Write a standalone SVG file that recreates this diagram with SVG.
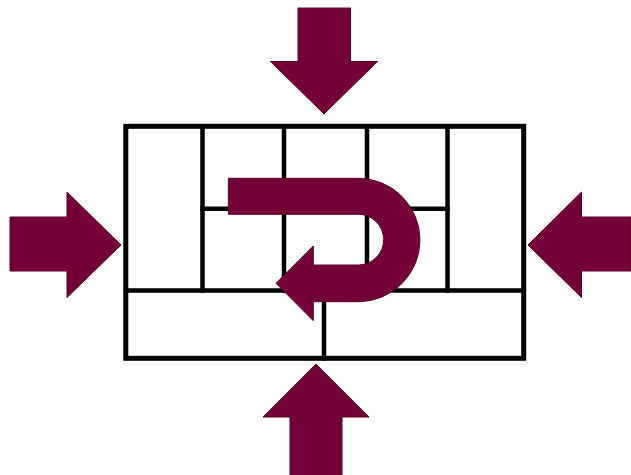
<svg xmlns="http://www.w3.org/2000/svg" width="631" height="475" viewBox="0 0 631 475">
<style>
.grid{fill:none;stroke:#000;stroke-width:4.5;stroke-linecap:square}
.outer{fill:#fff;stroke:#000;stroke-width:5}
.arr{fill:#730037;stroke:#5c002a;stroke-width:1;stroke-linejoin:miter}
</style>
<rect width="631" height="475" fill="#fff"/>
<g id="wall">
<rect class="outer" x="125.8" y="126.3" width="397.9" height="232"/>
<g class="grid">
<line x1="202.5" y1="126.3" x2="202.5" y2="290.5"/>
<line x1="284" y1="126.3" x2="284" y2="290.5"/>
<line x1="367" y1="126.3" x2="367" y2="290.5"/>
<line x1="447.5" y1="126.3" x2="447.5" y2="290.5"/>
<line x1="202.5" y1="208.7" x2="447.5" y2="208.7"/>
<line x1="125.8" y1="290.5" x2="523.7" y2="290.5"/>
<line x1="324" y1="290.5" x2="324" y2="358.3"/>
</g>
</g>
<g id="arrow-top"><path class="arr" d="M298,8 H350.5 V61.5 H377.5 L324,114 L270.5,61.5 H298 Z"/></g>
<g id="arrow-bottom"><path class="arr" d="M316,364 L369,417 H342 V476 H290 V417 H263 Z"/></g>
<g id="arrow-left"><path class="arr" d="M10,217 H67 V192 L121,245 L67,297.5 V271 H10 Z"/></g>
<g id="arrow-right"><path class="arr" d="M631,217 H581.5 V192 L528,245 L581.5,297.5 V271 H631 Z"/></g>
<g id="uturn"><path class="arr" d="M228.3,178.3 H358.3 A61.7,61.7 0 0 1 358.3,301.7 H313.3 V320.7 L276,283.3 L313.3,246 V265 H358.3 A25.3,25.3 0 0 0 358.3,214.3 H228.3 Z"/></g>
<g id="connectors"></g>
</svg>
